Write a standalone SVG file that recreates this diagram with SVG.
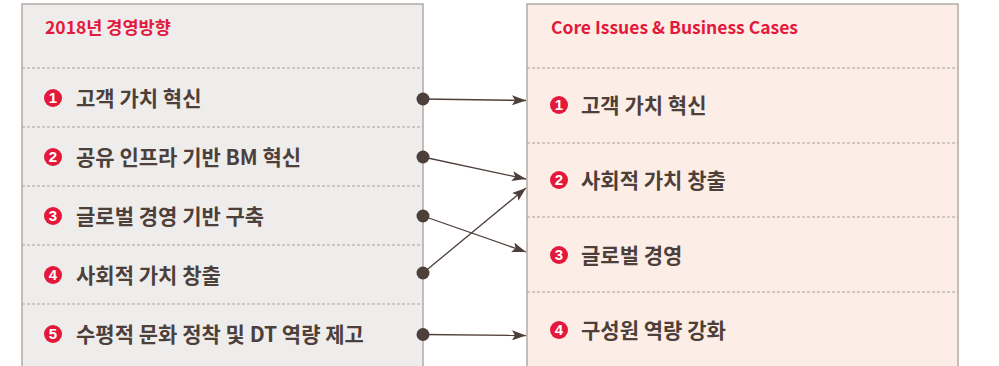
<svg xmlns="http://www.w3.org/2000/svg" width="999" height="366" viewBox="0 0 999 366">
<style>
.box{stroke:#b3aba7;stroke-width:1.5}
.dash{stroke:#a9a3a0;stroke-width:1;stroke-dasharray:3 2}
.hdr{font-family:"Noto Sans CJK KR","Noto Sans",sans-serif;font-size:17.5px;font-weight:bold;fill:#e3193c}
.item{font-family:"Noto Sans CJK KR","Noto Sans",sans-serif;font-size:21px;font-weight:bold;fill:#4d3f39}
.num{fill:#e3193c}
.numt{font-family:"Liberation Sans",sans-serif;font-size:15px;font-weight:bold;fill:#fff;text-anchor:middle}
.con{stroke:#4d3f39;stroke-width:1.3;fill:none}
.dot{fill:#4d3f39}
</style>
<defs>
<marker id="ah" viewBox="0 0 14 10" refX="14" refY="5" markerWidth="14" markerHeight="10" markerUnits="userSpaceOnUse" orient="auto">
<path d="M0,0 L14,5 L0,10 L3,5 Z" fill="#4d3f39"/>
</marker>
</defs>
<g id="left">
<rect class="box" x="22" y="4" width="401" height="380" fill="#efecec"/>
<text class="hdr" x="45" y="34">2018년 경영방향</text>
<line class="dash" x1="22" y1="68" x2="423" y2="68"/>
<line class="dash" x1="22" y1="127" x2="423" y2="127"/>
<line class="dash" x1="22" y1="186" x2="423" y2="186"/>
<line class="dash" x1="22" y1="245" x2="423" y2="245"/>
<line class="dash" x1="22" y1="304" x2="423" y2="304"/>
</g>
<g id="l1"><circle class="num" cx="53" cy="98" r="9"/><text class="numt" x="53" y="103.3">1</text><text class="item" x="76" y="105.5">고객 가치 혁신</text></g>
<g id="l2"><circle class="num" cx="53" cy="157" r="9"/><text class="numt" x="53" y="162.3">2</text><text class="item" x="76" y="164.5">공유 인프라 기반 BM 혁신</text></g>
<g id="l3"><circle class="num" cx="53" cy="216" r="9"/><text class="numt" x="53" y="221.3">3</text><text class="item" x="76" y="223.5">글로벌 경영 기반 구축</text></g>
<g id="l4"><circle class="num" cx="53" cy="275" r="9"/><text class="numt" x="53" y="280.3">4</text><text class="item" x="76" y="282.5">사회적 가치 창출</text></g>
<g id="l5"><circle class="num" cx="53" cy="334" r="9"/><text class="numt" x="53" y="339.3">5</text><text class="item" x="76" y="341.5">수평적 문화 정착 및 DT 역량 제고</text></g>
<g id="right">
<rect class="box" x="527" y="4" width="431" height="380" fill="#fcede7"/>
<text class="hdr" x="551" y="34">Core Issues &amp; Business Cases</text>
<line class="dash" x1="527" y1="68" x2="958" y2="68"/>
<line class="dash" x1="527" y1="143" x2="958" y2="143"/>
<line class="dash" x1="527" y1="217" x2="958" y2="217"/>
<line class="dash" x1="527" y1="292" x2="958" y2="292"/>
</g>
<g id="r1"><circle class="num" cx="559" cy="105" r="9"/><text class="numt" x="559" y="110.3">1</text><text class="item" x="581" y="112.5">고객 가치 혁신</text></g>
<g id="r2"><circle class="num" cx="559" cy="180" r="9"/><text class="numt" x="559" y="185.3">2</text><text class="item" x="581" y="187.5">사회적 가치 창출</text></g>
<g id="r3"><circle class="num" cx="559" cy="255" r="9"/><text class="numt" x="559" y="260.3">3</text><text class="item" x="581" y="262.5">글로벌 경영</text></g>
<g id="r4"><circle class="num" cx="559" cy="330" r="9"/><text class="numt" x="559" y="335.3">4</text><text class="item" x="581" y="337.5">구성원 역량 강화</text></g>
<g id="connectors">
<line class="con" x1="423" y1="99" x2="526" y2="100.5" marker-end="url(#ah)"/>
<line class="con" x1="423" y1="157" x2="526" y2="179" marker-end="url(#ah)"/>
<line class="con" x1="423" y1="216" x2="526" y2="252" marker-end="url(#ah)"/>
<line class="con" x1="423" y1="273" x2="526" y2="188" marker-end="url(#ah)"/>
<line class="con" x1="423" y1="334.5" x2="526" y2="335.5" marker-end="url(#ah)"/>
<circle class="dot" cx="423" cy="99" r="6.5"/>
<circle class="dot" cx="423" cy="157" r="6.5"/>
<circle class="dot" cx="423" cy="216" r="6.5"/>
<circle class="dot" cx="423" cy="273" r="6.5"/>
<circle class="dot" cx="423" cy="334.5" r="6.5"/>
</g>
</svg>
